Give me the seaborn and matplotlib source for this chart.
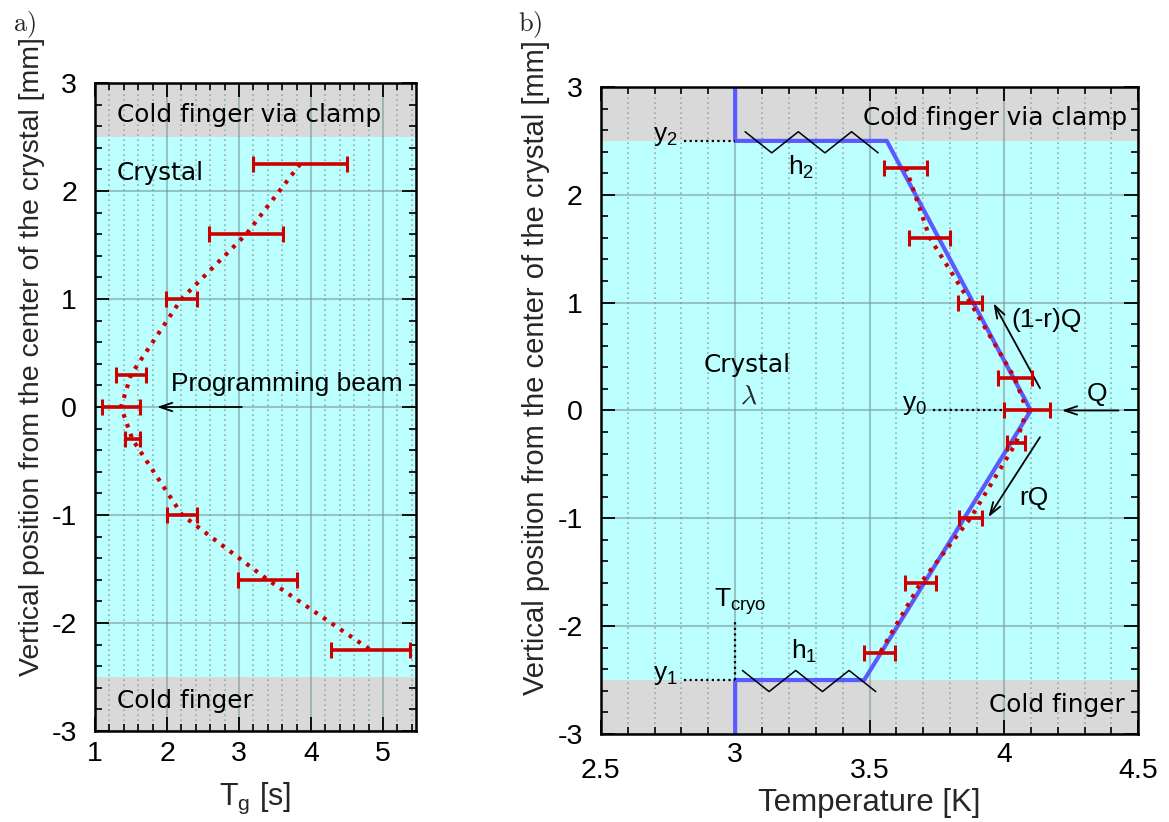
import numpy as np
import pandas as pd
import matplotlib
matplotlib.use("Agg")
import matplotlib.pyplot as plt
from matplotlib.ticker import MultipleLocator, FixedLocator
import seaborn as sns

# ---------------------------------------------------------------- data
# vertical positions of the measurements (mm from crystal centre)
positions = [2.25, 1.6, 1.0, 0.3, 0.0, -0.3, -1.0, -1.6, -2.25]
# grating lifetime T_g (s) and its uncertainty
tg_values = [3.85, 3.10, 2.20, 1.50, 1.36, 1.52, 2.21, 3.40, 4.83]
tg_errors = [0.65, 0.51, 0.21, 0.21, 0.27, 0.11, 0.21, 0.41, 0.55]
# temperature obtained from T_g (K) and its uncertainty
temp_values = [3.635, 3.724, 3.875, 4.040, 4.085, 4.045, 3.875, 3.690, 3.538]
temp_errors = [0.080, 0.076, 0.045, 0.063, 0.085, 0.032, 0.043, 0.057, 0.057]
# heat-conduction model: piecewise linear temperature profile
model_pos = [-3.0, -2.5, -2.5, 0.0, 2.5, 2.5, 3.0]
model_temp = [3.0, 3.0, 3.48, 4.10, 3.564, 3.0, 3.0]

tg_ticks = [1, 2, 3, 4, 5]
temp_ticks = [2.5, 3.0, 3.5, 4.0, 4.5]
temp_tick_labels = ["2.5", "3", "3.5", "4", "4.5"]
pos_ticks = [-3, -2, -1, 0, 1, 2, 3]
pos_tick_labels = ["-3", "-2", "-1", "0", "1", "2", "3"]

# ---------------------------------------------------------------- style
sns.set_theme(style="ticks")
plt.rcParams.update({
    "font.family": ["Liberation Sans", "DejaVu Sans"],
    "axes.unicode_minus": False,
    "mathtext.fontset": "custom",
    "mathtext.rm": "Liberation Sans",
    "mathtext.it": "Liberation Sans:italic",
    "mathtext.bf": "Liberation Sans:bold",
    "axes.linewidth": 1.8,
    "axes.edgecolor": "black",
})

RED = "#cc0000"
BLUE = "#5a5aff"
CYAN = "#bcffff"
GREY = "#d9d9d9"
REGION_FONT = dict(family="DejaVu Sans", fontsize=17.8, color="black")
ANNOT_FONT = dict(fontsize=19, color="black")
DOTS = (0, (0.9, 1.6))

fig = plt.figure(figsize=(11.69, 8.22), dpi=100)
ax_a = fig.add_axes([0.0813, 0.1107, 0.2746, 0.7883])
ax_b = fig.add_axes([0.5139, 0.1071, 0.4599, 0.7871])


def style_axes(ax, xminor):
    ax.set_facecolor(GREY)
    ax.axhspan(-2.5, 2.5, color=CYAN, lw=0, zorder=0.1)
    ax.set_axisbelow(True)
    ax.set_ylim(-3, 3)
    ax.yaxis.set_major_locator(FixedLocator(pos_ticks))
    ax.set_yticklabels(pos_tick_labels)
    ax.xaxis.set_minor_locator(MultipleLocator(xminor))
    ax.yaxis.set_minor_locator(MultipleLocator(0.2))
    ax.grid(True, which="major", axis="both", color="#6e8c8c",
            alpha=0.5, lw=1.5, ls="-")
    ax.grid(True, which="minor", axis="x", color="#8a9a9a",
            alpha=0.8, lw=1.2, ls=(0, (1, 2)))
    ax.grid(False, which="minor", axis="y")
    ax.tick_params(which="both", direction="in", top=True, right=True,
                   colors="black", labelsize=20.5)
    ax.tick_params(which="major", length=10, width=1.3)
    ax.tick_params(which="minor", length=5, width=1.2)
    ax.tick_params(axis="y", which="major", pad=13)
    for s in ax.spines.values():
        s.set_visible(True)
        s.set_linewidth(1.8)
        s.set_zorder(5)


def zigzag(x0, x1, yc, amp, n):
    xs = np.linspace(x0, x1, n + 1)
    ys = yc + amp * np.where(np.arange(n + 1) % 2 == 0, 1, -1)
    return xs, ys


def arrow(ax, tail, head):
    ax.annotate("", xy=head, xytext=tail,
                arrowprops=dict(arrowstyle="->,head_length=0.75,head_width=0.25",
                                color="black", lw=1.3,
                                shrinkA=0, shrinkB=0))


# ---------------------------------------------------------------- panel a
style_axes(ax_a, 0.2)
ax_a.set_xlim(1, 5.46)
ax_a.xaxis.set_major_locator(FixedLocator(tg_ticks))
ax_a.tick_params(axis="x", which="major", pad=7)

df_a = pd.DataFrame({"tg": tg_values, "pos": positions})
sns.lineplot(data=df_a, x="tg", y="pos", sort=False, estimator=None,
             color=RED, lw=3, linestyle=DOTS, ax=ax_a, zorder=3)
ax_a.errorbar(tg_values, positions, xerr=tg_errors, fmt="none",
              ecolor=RED, elinewidth=2.6, capsize=6, capthick=2.2, zorder=4)

ax_a.text(1.30, 2.70, "Cold finger via clamp", ha="left", va="center", **REGION_FONT)
ax_a.text(1.30, 2.17, "Crystal", ha="left", va="center", **REGION_FONT)
ax_a.text(1.30, -2.72, "Cold finger", ha="left", va="center", **REGION_FONT)
ax_a.text(2.05, 0.21, "Programming beam", ha="left", va="center", **ANNOT_FONT)
arrow(ax_a, (3.04, 0.0), (1.86, 0.0))

ax_a.set_xlabel(r"T$_\mathrm{g}$ [s]", fontsize=22)
ax_a.set_ylabel("Vertical position from the center of the crystal [mm]", fontsize=20.5)
ax_a.xaxis.set_label_coords(0.5, -0.077)
ax_a.xaxis.label.set_va("top")
ax_a.yaxis.set_label_coords(-0.156, 0.578)

# ---------------------------------------------------------------- panel b
style_axes(ax_b, 0.1)
ax_b.set_xlim(2.5, 4.5)
ax_b.xaxis.set_major_locator(FixedLocator(temp_ticks))
ax_b.set_xticklabels(temp_tick_labels)
for i, tick in enumerate(ax_b.xaxis.get_major_ticks()):
    tick.set_pad(17 if i % 2 == 0 else 6)

df_model = pd.DataFrame({"temp": model_temp, "pos": model_pos})
sns.lineplot(data=df_model, x="temp", y="pos", sort=False, estimator=None,
             color=BLUE, lw=3, ax=ax_b, zorder=3)
df_b = pd.DataFrame({"temp": temp_values, "pos": positions})
sns.lineplot(data=df_b, x="temp", y="pos", sort=False, estimator=None,
             color=RED, lw=3, linestyle=DOTS, ax=ax_b, zorder=3.5)
ax_b.errorbar(temp_values, positions, xerr=temp_errors, fmt="none",
              ecolor=RED, elinewidth=2.6, capsize=6, capthick=2.2, zorder=4)

# heat-transfer springs at the two contacts
for x0, x1, yc in [(3.037, 3.532, 2.487), (3.027, 3.523, -2.509)]:
    zx, zy = zigzag(x0, x1, yc, 0.098, 5)
    ax_b.plot(zx, zy, color="black", lw=1.1, zorder=3.2)

# reference levels
ax_b.plot([2.81, 3.0], [2.5, 2.5], color="black", lw=1.6, ls=(0, (1, 1.5)), zorder=3)
ax_b.plot([2.81, 3.0], [-2.5, -2.5], color="black", lw=1.6, ls=(0, (1, 1.5)), zorder=3)
ax_b.plot([3.735, 4.10], [0.0, 0.0], color="black", lw=1.6, ls=(0, (1, 1.5)), zorder=3)
ax_b.plot([3.0, 3.0], [-2.5, -1.936], color="black", lw=1.6, ls=(0, (1, 1.5)), zorder=3)

ax_b.text(4.458, 2.71, "Cold finger via clamp", ha="right", va="center", **REGION_FONT)
ax_b.text(4.45, -2.73, "Cold finger", ha="right", va="center", **REGION_FONT)
ax_b.text(3.046, 0.423, "Crystal", ha="center", va="center", **REGION_FONT)
ax_b.text(3.05, 0.13, r"$\lambda$", ha="center", va="center", fontsize=20,
          math_fontfamily="cm")

ax_b.text(2.788, 2.5, r"y$_2$", ha="right", va="baseline", **ANNOT_FONT)
ax_b.text(2.786, -2.5, r"y$_1$", ha="right", va="baseline", **ANNOT_FONT)
ax_b.text(3.713, 0.0, r"y$_0$", ha="right", va="baseline", **ANNOT_FONT)
ax_b.text(3.02, -1.82, r"T$_\mathrm{cryo}$", ha="center", va="baseline", **ANNOT_FONT)
ax_b.text(3.255, -2.30, r"h$_1$", ha="center", va="baseline", **ANNOT_FONT)
ax_b.text(3.246, 2.186, r"h$_2$", ha="center", va="baseline", **ANNOT_FONT)
ax_b.text(4.345, 0.085, "Q", ha="center", va="baseline", **ANNOT_FONT)
ax_b.text(4.16, 0.778, "(1-r)Q", ha="center", va="baseline", **ANNOT_FONT)
ax_b.text(4.11, -0.876, "rQ", ha="center", va="baseline", **ANNOT_FONT)

arrow(ax_b, (4.426, 0.0), (4.215, 0.0))
arrow(ax_b, (4.134, 0.207), (3.961, 0.995))
arrow(ax_b, (4.134, -0.248), (3.942, -0.99))

ax_b.set_xlabel("Temperature [K]", fontsize=22.5)
ax_b.set_ylabel("Vertical position from the center of the crystal [mm]", fontsize=21)
ax_b.xaxis.set_label_coords(0.5, -0.083)
ax_b.xaxis.label.set_va("top")
ax_b.yaxis.set_label_coords(-0.094, 0.566)

# panel letters
fig.text(0.011, 0.988, r"$\mathrm{a)}$", ha="left", va="top", fontsize=19,
         math_fontfamily="cm")
fig.text(0.443, 0.989, r"$\mathrm{b)}$", ha="left", va="top", fontsize=19,
         math_fontfamily="cm")

fig.savefig("out.png", dpi=100)
